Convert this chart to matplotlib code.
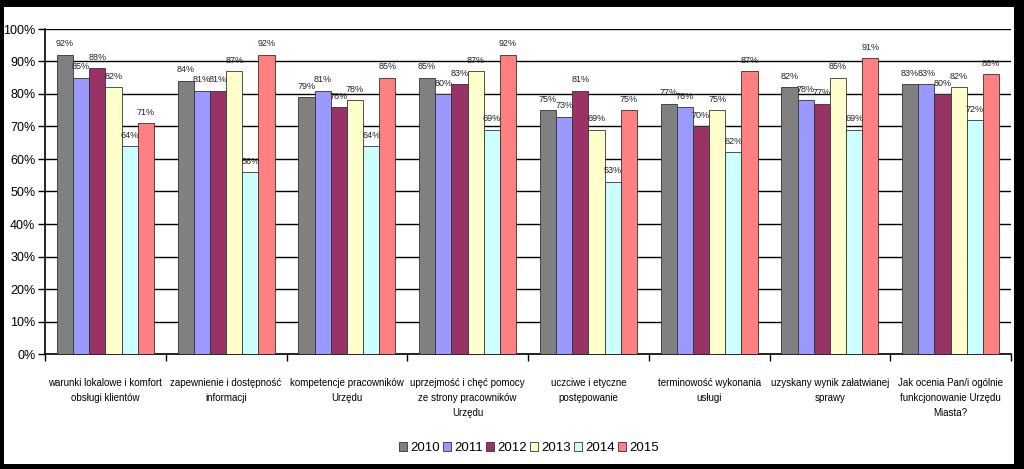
import matplotlib
matplotlib.use("Agg")
import matplotlib.pyplot as plt
import numpy as np
from matplotlib.patches import Rectangle

categories = [
    "warunki lokalowe i komfort\nobsługi klientów",
    "zapewnienie i dostępność\ninformacji",
    "kompetencje pracowników\nUrzędu",
    "uprzejmość i chęć pomocy\nze strony pracowników\nUrzędu",
    "uczciwe i etyczne\npostępowanie",
    "terminowość wykonania\nusługi",
    "uzyskany wynik załatwianej\nsprawy",
    "Jak ocenia Pan/i ogólnie\nfunkcjonowanie Urzędu\nMiasta?",
]
years = ["2010", "2011", "2012", "2013", "2014", "2015"]
v2010 = [92, 84, 79, 85, 75, 77, 82, 83]
v2011 = [85, 81, 81, 80, 73, 76, 78, 83]
v2012 = [88, 81, 76, 83, 81, 70, 77, 80]
v2013 = [82, 87, 78, 87, 69, 75, 85, 82]
v2014 = [64, 56, 64, 69, 53, 62, 69, 72]
v2015 = [71, 92, 85, 92, 75, 87, 91, 86]
series = [v2010, v2011, v2012, v2013, v2014, v2015]
colors = ["#808080", "#9999FF", "#993366", "#FFFFCC", "#CCFFFF", "#FF8080"]

plt.rcParams["font.family"] = ["Liberation Sans", "DejaVu Sans"]

fig = plt.figure(figsize=(10.24, 4.69), dpi=100)
fig.patch.set_facecolor("black")
fig.patches.append(Rectangle((4 / 1024, 1 - 464 / 469), (1014 - 4) / 1024, (464 - 7) / 469,
                             transform=fig.transFigure, facecolor="white", edgecolor="none", zorder=-1))

ax = fig.add_axes([45 / 1024, 1 - 354 / 469, (1011 - 45) / 1024, (354 - 29) / 469])
ax.set_zorder(1)
ax.set_facecolor("white")

x = np.arange(len(categories))
w = 0.134
for i, (vals, c, yr) in enumerate(zip(series, colors, years)):
    pos = x + (i - 2.5) * w
    ax.bar(pos, vals, width=w, color=c, edgecolor="#333333", linewidth=0.6, label=yr, zorder=3)
    for px, v in zip(pos, vals):
        ax.text(px, v + 2.0, f"{v}%", ha="center", va="bottom", fontsize=6.5, color="#222222", zorder=4)

ax.set_xlim(-0.5, len(categories) - 0.5)
ax.set_ylim(0, 100)
ax.set_yticks(np.arange(0, 101, 10))
ax.set_yticklabels([f"{t}%" for t in range(0, 101, 10)], fontsize=9)
ax.yaxis.grid(True, color="black", linewidth=1.0, zorder=0)
ax.set_axisbelow(True)
ax.set_xticks(x)
ax.set_xticklabels(categories, fontsize=7, linespacing=1.65)
ax.set_xticks(np.arange(-0.5, len(categories), 1), minor=True)
ax.tick_params(axis="x", which="major", length=0, pad=17)
ax.tick_params(axis="x", which="minor", length=5, width=1, direction="out")
ax.tick_params(axis="y", length=5, width=1, direction="out", pad=2)
for s in ["top", "right"]:
    ax.spines[s].set_visible(False)
ax.spines["left"].set_linewidth(1.2)
ax.spines["bottom"].set_linewidth(1.2)

leg = fig.legend(loc="center", bbox_to_anchor=(529 / 1024, 1 - 448 / 469), ncol=6, frameon=False,
                 fontsize=9.5, handlelength=0.6, handleheight=0.6, handletextpad=0.25, columnspacing=0.25)

fig.savefig("out.png", dpi=100, facecolor=fig.get_facecolor())
